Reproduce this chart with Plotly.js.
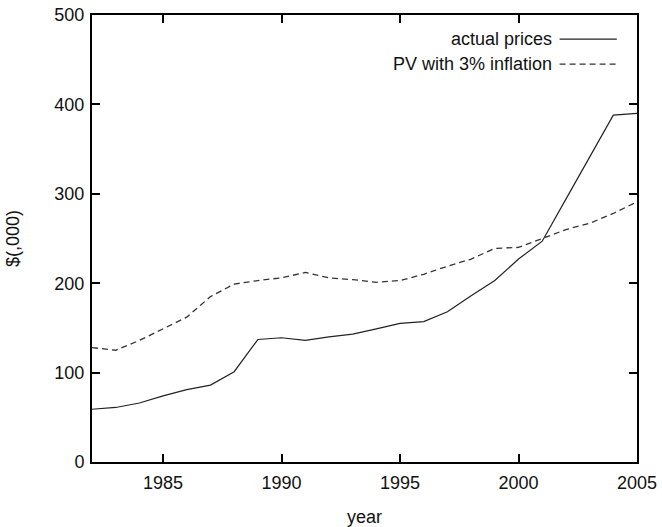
<!DOCTYPE html>
<html>
<head>
<meta charset="utf-8">
<script src="https://cdn.plot.ly/plotly-3.0.1.min.js"></script>
<style>html,body{margin:0;padding:0;background:#fff;}#chart{width:662px;height:527px;}</style>
</head>
<body>
<div id="chart"></div>
<script>
const years = [1982,1983,1984,1985,1986,1987,1988,1989,1990,1991,1992,1993,1994,1995,1996,1997,1998,1999,2000,2001,2002,2003,2004,2005];
const actualPrices = [59,61,66,74,81,86,101,137,139,136,140,143,149,155,157,168,186,203,227,247,294,341,388,390];
const pvInflation = [128,125,136,149,162,185,199,203,206,212,206,204,201,203,210,219,227,239,240,250,260,267,278,291];
const seriesNames = ["actual prices","PV with 3% inflation"];
const xTicks = [1985,1990,1995,2000,2005];
const yTicks = [0,100,200,300,400,500];

const font = {family: "Liberation Sans, Arial, sans-serif", size: 18, color: "#111"};

const traces = [
  {x: years, y: actualPrices, name: seriesNames[0], mode: "lines", line: {color: "#222", width: 1.2}, showlegend: false},
  {x: years, y: pvInflation, name: seriesNames[1], mode: "lines", line: {color: "#333", width: 1.3, dash: "6px,4px"}, showlegend: false}
];

const axisCommon = {
  showline: true, linecolor: "#000", linewidth: 2, mirror: "allticks",
  ticks: "inside", ticklen: 8, tickwidth: 2, tickcolor: "#000",
  showgrid: false, zeroline: false, tickfont: font
};

const layout = {
  width: 662, height: 527,
  margin: {l: 92, r: 25, t: 15, b: 65},
  paper_bgcolor: "#fff", plot_bgcolor: "#fff",
  font: font,
  xaxis: Object.assign({}, axisCommon, {
    range: [1982, 2005], tickvals: xTicks, ticktext: xTicks.map(String),
    ticklabelstandoff: 3,
    title: {text: "year", font: font, standoff: 20}
  }),
  yaxis: Object.assign({}, axisCommon, {
    range: [0, 500], tickvals: yTicks, ticktext: yTicks.map(String),
    ticklabelstandoff: 2,
    title: {text: "$(,000)", font: font, standoff: 30}
  }),
  annotations: [
    {xref: "paper", yref: "paper", x: 0.847, y: 0.946, xanchor: "right", yanchor: "middle", text: seriesNames[0], showarrow: false, font: font},
    {xref: "paper", yref: "paper", x: 0.847, y: 0.890, xanchor: "right", yanchor: "middle", text: seriesNames[1], showarrow: false, font: font}
  ],
  shapes: [
    {type: "line", xref: "paper", yref: "paper", x0: 0.858, x1: 0.963, y0: 0.946, y1: 0.946, line: {color: "#222", width: 1.2}},
    {type: "line", xref: "paper", yref: "paper", x0: 0.858, x1: 0.963, y0: 0.890, y1: 0.890, line: {color: "#333", width: 1.3, dash: "6px,4px"}}
  ]
};

Plotly.newPlot("chart", traces, layout, {displayModeBar: false, staticPlot: true});
</script>
</body>
</html>
